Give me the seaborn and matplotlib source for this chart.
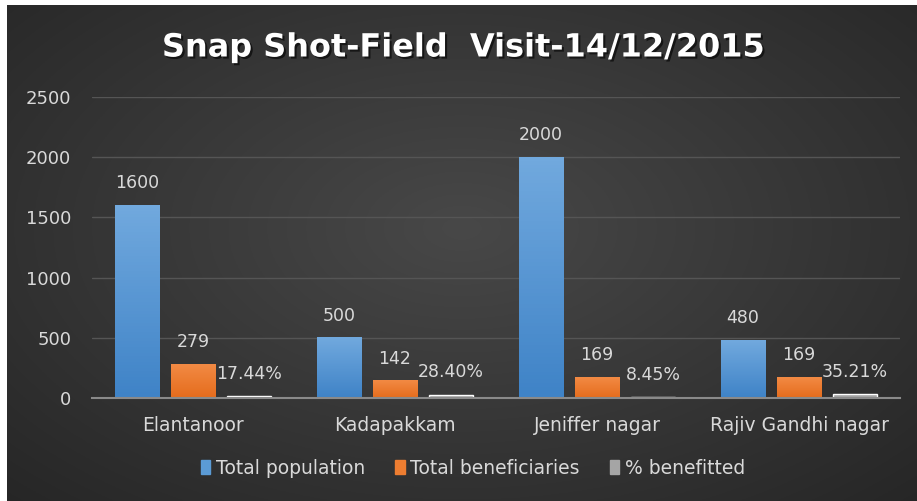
import numpy as np
import pandas as pd
import matplotlib
matplotlib.use("Agg")
import matplotlib.pyplot as plt
import matplotlib.patheffects as pe
from matplotlib.patches import Rectangle
import seaborn as sns

categories = ["Elantanoor", "Kadapakkam", "Jeniffer nagar", "Rajiv Gandhi nagar"]
total_population = [1600, 500, 2000, 480]
total_beneficiaries = [279, 142, 169, 169]
pct_benefitted = [17.44, 28.40, 8.45, 35.21]
series_names = ["Total population", "Total beneficiaries", "% benefitted"]
y_ticks = [0, 500, 1000, 1500, 2000, 2500]
title = "Snap Shot-Field  Visit-14/12/2015"

colors = ["#5b9bd5", "#ed7d31", "#a5a5a5"]
txt = "#d9d9d9"

df = pd.DataFrame({
    "cat": categories * 3,
    "series": [series_names[0]] * 4 + [series_names[1]] * 4 + [series_names[2]] * 4,
    "value": total_population + total_beneficiaries + pct_benefitted,
})

sns.set_theme(style="dark")
plt.rcParams["font.family"] = ["DejaVu Sans"]

W, H = 917, 501
fig = plt.figure(figsize=(W / 100, H / 100), dpi=100, facecolor="white")

# background radial gradient
bg = fig.add_axes([7 / W, 0, (W - 7) / W, (H - 5) / H])
yy, xx = np.mgrid[0:1:300j, 0:1:500j]
r = np.sqrt(((xx - 0.5) / 0.75) ** 2 + ((yy - 0.55) / 0.8) ** 2)
r = np.clip(r, 0, 1)
c0 = np.array([0x48, 0x48, 0x48]) / 255
c1 = np.array([0x25, 0x25, 0x25]) / 255
img = c0[None, None, :] * (1 - r[..., None]) + c1[None, None, :] * r[..., None]
bg.imshow(img, aspect="auto", extent=[0, 1, 0, 1], origin="lower")
bg.set_axis_off()

ax = fig.add_axes([92 / W, 1 - 398 / H, (900 - 92) / W, (398 - 97) / H])
ax.patch.set_alpha(0)
sns.barplot(data=df, x="cat", y="value", hue="series", palette=colors,
            width=0.83, gap=0.21, ax=ax, legend=True, saturation=1)

ax.set_ylim(0, 2500)
ax.set_xlim(-0.5, 3.5)
ax.set_yticks(y_ticks)
ax.set_yticklabels([str(t) for t in y_ticks], color=txt, fontsize=13)
ax.tick_params(axis="y", length=0, pad=15)
ax.tick_params(axis="x", length=0, pad=13, labelsize=13.5, labelcolor=txt)
ax.set_xlabel("")
ax.set_ylabel("")
ax.grid(axis="y", color="#555555", linewidth=1)
ax.grid(axis="x", visible=False)
for s in ["top", "right", "left"]:
    ax.spines[s].set_visible(False)
ax.spines["bottom"].set_color("#8a8a8a")
ax.spines["bottom"].set_linewidth(1.5)

# bar gradients + labels
grads = [("#71a9de", "#3f83c7"), ("#f28a44", "#e56c1c"), ("#b0b0b0", "#a0a0a0")]
for i, cont in enumerate(ax.containers):
    vals = [total_population, total_beneficiaries, pct_benefitted][i]
    top, bot = [np.array(matplotlib.colors.to_rgb(c)) for c in grads[i]]
    grad = np.linspace(0, 1, 64)[:, None, None]
    gimg = bot * (1 - grad) + top * grad
    for bar, v in zip(cont, vals):
        x0, w = bar.get_x(), bar.get_width()
        h = bar.get_height()
        if i < 2:
            bar.set_alpha(0)
            ax.imshow(np.repeat(gimg, 2, axis=1), extent=[x0, x0 + w, 0, h],
                      aspect="auto", origin="lower", zorder=bar.get_zorder())
        lab = f"{v:.2f}%" if i == 2 else f"{v:d}"
        ax.annotate(lab, (x0 + w / 2, h), xytext=(0, 16), textcoords="offset points",
                    ha="center", va="center", color=txt, fontsize=12.5)
ax.set_xlim(-0.5, 3.5)
ax.set_ylim(0, 2500)

leg = ax.get_legend()
leg.remove()
handles = [Rectangle((0, 0), 1, 1, color=c) for c in colors]
fig.legend(handles, series_names, loc="center", bbox_to_anchor=(473 / W, 1 - 468 / H),
           ncol=3, frameon=False, fontsize=13.5, labelcolor=txt, handlelength=0.5,
           handleheight=0.85, handletextpad=0.3, columnspacing=1.6)

fig.text(464 / W, 1 - 48 / H, title, ha="center", va="center", color="white",
         fontsize=23, fontweight="bold",
         path_effects=[pe.withSimplePatchShadow(offset=(1.5, -1.5), shadow_rgbFace="black", alpha=0.6)])

fig.savefig("out.png", dpi=100, facecolor="white")
